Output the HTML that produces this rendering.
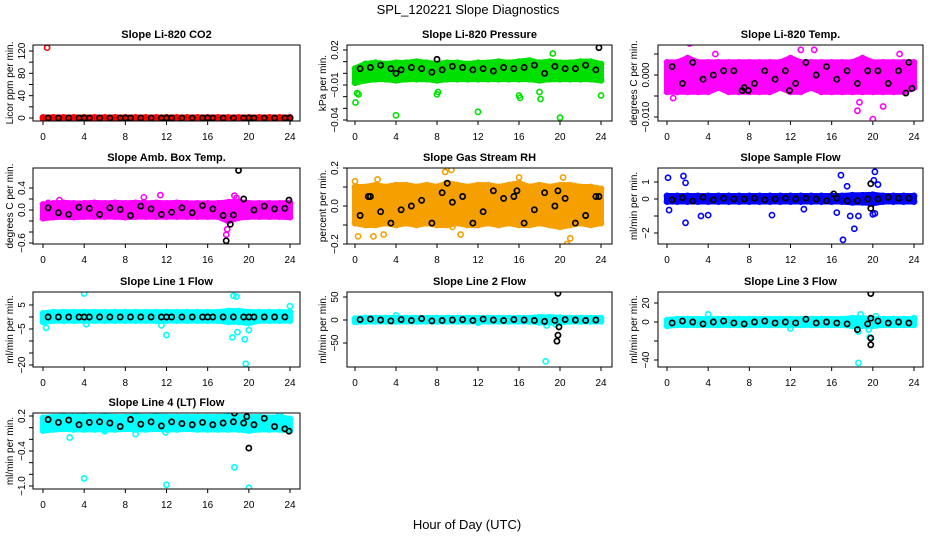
<!DOCTYPE html>
<html><head><meta charset="utf-8"><style>
body{margin:0;background:#fff;}
svg{display:block;font-family:"Liberation Sans",sans-serif;}
</style></head><body>
<svg id="c" width="936" height="540" viewBox="0 0 936 540">
<text x="468" y="14" text-anchor="middle" font-size="13">SPL_120221  Slope Diagnostics</text>
<text x="467" y="529" text-anchor="middle" font-size="13">Hour of Day (UTC)</text>
</svg>
<script>
// ---- data ----
const hours = [0,1,2,3,4,5,6,7,8,9,10,11,12,13,14,15,16,17,18,19,20,21,22,23,24];
const xTicks = [0,4,8,12,16,20,24];
const meanHours = [0.5,1.5,2.5,3.5,4.5,5.5,6.5,7.5,8.5,9.5,10.5,11.5,12.5,13.5,14.5,15.5,16.5,17.5,18.5,19.5,20.5,21.5,22.5,23.5];

const co2Lo = [-1,-1,-1,-1,-1,-1,-1,-1,-1,-1,-1,-1,-1,-1,-1,-1,-1,-1,-1,-1,-1,-1,-1,-1,-1];
const co2Hi = [1,1,1,1,1,1,1,1,1,1,1,1,1,1,1,1,1,1,1,1,1,1,1,1,1];
const co2Mean = [0,0,0,0,0,0,0,0,0,0,0,0,0,0,0,0,0,0,0,0,0,0,0,0];
const co2OutX = [0.4]; const co2OutY = [126];
const co2BlkX = [4,8,12,16,20,24]; const co2BlkY = [0,0,0,0,0,0];

const prLo = [-0.008,-0.006,-0.005,-0.005,-0.006,-0.005,-0.005,-0.005,-0.006,-0.005,-0.005,-0.005,-0.005,-0.005,-0.005,-0.005,-0.005,-0.005,-0.006,-0.005,-0.005,-0.005,-0.005,-0.005,-0.006];
const prHi = [0.004,0.008,0.009,0.008,0.009,0.009,0.010,0.009,0.008,0.009,0.009,0.008,0.009,0.009,0.010,0.009,0.010,0.011,0.009,0.010,0.009,0.009,0.010,0.010,0.008];
const prMean = [0.004,0.005,0.007,0.004,0.003,0.005,0.004,0.001,0.003,0.006,0.005,0.003,0.004,0.002,0.005,0.004,0.005,0.007,0.000,0.006,0.004,0.004,0.007,0.003];
const prOutX = [0.05,0.2,0.35,4.0,8.0,8.1,12.0,16.0,16.1,18.0,18.1,20.0,24.0,19.3];
const prOutY = [-0.025,-0.017,-0.018,-0.036,-0.018,-0.016,-0.033,-0.019,-0.021,-0.016,-0.022,-0.038,-0.019,0.017];
const prBlkX = [23.8,8.0,4.0]; const prBlkY = [0.022,0.012,0.000];

const tLo = [-0.004,-0.004,-0.004,-0.004,-0.004,-0.003,-0.004,-0.004,-0.004,-0.004,-0.004,-0.003,-0.004,-0.004,-0.003,-0.004,-0.004,-0.004,-0.004,-0.004,-0.004,-0.004,-0.004,-0.004,-0.003];
const tHi = [0.003,0.003,0.004,0.003,0.003,0.003,0.003,0.003,0.003,0.003,0.003,0.003,0.004,0.003,0.003,0.003,0.003,0.003,0.003,0.004,0.003,0.003,0.003,0.003,0.003];
const tMean = [0.002,-0.002,0.003,-0.001,0.000,0.001,0.001,-0.003,-0.002,0.001,-0.001,0.001,-0.002,0.003,0.000,0.002,-0.001,0.001,-0.002,0.001,0.001,-0.002,0.001,0.003];
const tOutX = [0.6,2.2,4.7,20.0,21.0,18.5,14.3,22.6,13.0,18.7];
const tOutY = [-0.0055,0.0075,0.005,-0.0105,-0.0075,-0.0085,0.006,0.005,0.006,-0.0065];
const tBlkX = [7.3,7.9,11.9,23.2,23.8]; const tBlkY = [-0.0037,-0.0037,-0.0037,-0.0043,-0.0032];

const aLo = [-0.15,-0.13,-0.12,-0.13,-0.12,-0.12,-0.12,-0.12,-0.13,-0.12,-0.12,-0.12,-0.12,-0.12,-0.12,-0.12,-0.12,-0.12,-0.20,-0.14,-0.12,-0.12,-0.12,-0.12,-0.13];
const aHi = [0.10,0.12,0.13,0.12,0.12,0.13,0.12,0.13,0.12,0.13,0.12,0.13,0.12,0.13,0.12,0.12,0.12,0.12,0.14,0.15,0.12,0.12,0.12,0.12,0.13];
const aMean = [0.04,-0.05,-0.08,0.05,0.03,-0.08,0.04,0.01,-0.10,0.07,0.02,-0.08,-0.04,0.04,-0.05,0.08,0.02,-0.10,-0.09,0.20,0.00,0.07,0.02,0.03];
const aOutX = [17.8,17.9,18.6,18.8,1.6,11.4,9.8,0.5];
const aOutY = [-0.45,-0.35,0.26,0.22,0.18,0.27,0.23,0.13];
const aBlkX = [19.0,17.8,18.2,23.9]; const aBlkY = [0.72,-0.56,-0.26,0.18];

const rhLo = [-0.09,-0.10,-0.10,-0.09,-0.10,-0.09,-0.10,-0.09,-0.10,-0.10,-0.09,-0.10,-0.10,-0.09,-0.10,-0.09,-0.10,-0.10,-0.09,-0.10,-0.11,-0.10,-0.09,-0.10,-0.09];
const rhHi = [0.10,0.10,0.11,0.10,0.11,0.11,0.10,0.11,0.10,0.12,0.11,0.10,0.11,0.11,0.10,0.11,0.12,0.10,0.11,0.10,0.11,0.11,0.10,0.10,0.09];
const rhMean = [-0.05,0.05,-0.03,-0.09,-0.02,0.00,0.03,-0.09,0.07,0.02,0.05,-0.09,-0.03,0.08,0.04,0.05,-0.09,-0.02,0.07,0.00,0.04,-0.09,-0.05,0.05];
const rhOutX = [0.0,0.3,1.8,2.2,2.8,8.8,9.4,9.5,10.3,16.0,20.3,21.0,20.7,11.7];
const rhOutY = [0.13,-0.16,-0.16,0.14,-0.15,0.18,0.19,-0.11,-0.15,0.15,0.15,-0.17,-0.20,-0.10];
const rhBlkX = [1.3,9.0,15.8,19.8,23.8]; const rhBlkY = [0.05,0.12,0.08,0.08,0.05];

const sLo = [-0.15,-0.15,-0.15,-0.15,-0.15,-0.15,-0.15,-0.15,-0.15,-0.15,-0.15,-0.15,-0.15,-0.15,-0.15,-0.15,-0.15,-0.15,-0.20,-0.20,-0.25,-0.15,-0.15,-0.15,-0.15];
const sHi = [0.18,0.18,0.18,0.18,0.18,0.18,0.18,0.18,0.18,0.18,0.18,0.18,0.18,0.18,0.18,0.18,0.18,0.18,0.22,0.22,0.25,0.18,0.18,0.18,0.18];
const sMean = [-0.05,0.08,-0.12,0.10,-0.05,0.05,0.00,0.00,0.05,-0.05,0.00,0.05,0.00,0.05,0.00,-0.10,0.05,-0.10,-0.10,0.00,0.00,0.10,0.05,0.05];
const sOutX = [0.1,0.2,1.6,1.8,1.8,3.3,4.0,5.0,10.2,13.3,16.9,17.1,17.5,17.8,18.2,18.6,20.1,20.2,20.5,20.0,20.2,16.5];
const sOutY = [1.25,-0.65,1.35,0.95,-1.4,-1.0,-0.95,0.0,-0.95,-0.6,1.4,-2.4,0.75,-1.0,-1.75,-1.0,1.1,1.6,0.85,-0.9,-0.85,-0.8];
const sBlkX = [19.8,19.8,16.2]; const sBlkY = [0.9,-0.55,0.3];

const l1Lo = [-2,-1.5,-1.5,-1.5,-1.5,-1.5,-1.5,-1.5,-1.5,-1.5,-1.5,-1.5,-1.5,-1.5,-1.5,-1.5,-1.5,-1.5,-2,-2,-2.5,-1.5,-1.5,-1.5,-1.5];
const l1Hi = [1.5,2,2,2,2,2,2,2,2,2,2,2,2,2,2,2,2,2,2.5,2.5,2,2,2,2,2];
const l1Mean = [0,0,0,0,0,0,0,0,0,0,0,0,0,0,0,0,0,0,0,0,0,0,0,0];
const l1OutX = [4.0,18.5,18.8,12.0,18.4,19.6,19.7,18.9,20.0,24.0,0.3,11.5,4.2];
const l1OutY = [9.8,8.8,8.5,-7.5,-8.5,-9.3,-19.5,-6.3,-5.5,4.5,-4.5,-3.5,-3.0];
const l1BlkX = [4.0,12.0,16.0,20.0]; const l1BlkY = [0,0,0,0];

const l2Lo = [-4,-3,-3,-3,-3,-3,-3,-3,-3,-3,-3,-3,-3,-3,-3,-3,-3,-3,-5,-5,-5,-3,-3,-3,-3];
const l2Hi = [3,4,4,4,4,4,4,4,4,4,4,4,4,4,4,4,4,4,6,6,5,4,4,4,4];
const l2Mean = [1,2,0,-2,1,-1,3,-2,-1,0,1,-1,2,0,-1,1,0,-1,-3,-1,1,0,-1,0];
const l2OutX = [4.0,18.6,18.7,19.6,12.0];
const l2OutY = [10,-90,-12,-10,-6];
const l2BlkX = [19.8,19.7,19.8,19.9]; const l2BlkY = [58,-46,-33,-15];

const l3Lo = [-4,-3,-3,-3,-3,-3,-3,-3,-3,-3,-3,-3,-3,-3,-3,-3,-3,-3,-4,-4,-4,-3,-3,-3,-3];
const l3Hi = [2,3,3,3,3,3,3,3,3,3,3,3,3,3,3,3,3,3,4,4,3,3,3,3,3];
const l3Mean = [-1,1,0,-2,0,1,-1,-2,0,1,-1,0,-1,3,-1,0,-1,-2,-8,-2,1,-1,0,-1];
const l3OutX = [18.6,18.6,18.8,19.6,19.7,4.0,12.0,20.3,24.0];
const l3OutY = [-43,-10,8,-8,-16,8,-7,6,4];
const l3BlkX = [19.8,19.8,19.8,19.8]; const l3BlkY = [30,-17,-24,4];

const l4Lo = [-0.05,-0.03,-0.02,-0.03,-0.03,-0.03,-0.03,-0.03,-0.02,-0.03,-0.03,-0.02,-0.03,-0.03,-0.02,-0.03,-0.03,-0.03,-0.03,-0.03,-0.05,-0.03,-0.03,-0.03,-0.05];
const l4Hi = [0.17,0.18,0.19,0.18,0.19,0.18,0.19,0.18,0.18,0.19,0.18,0.19,0.18,0.18,0.18,0.18,0.18,0.18,0.19,0.18,0.18,0.18,0.17,0.18,0.15];
const l4Mean = [0.14,0.09,0.13,0.05,0.09,0.10,0.08,0.02,0.14,0.06,0.10,0.03,0.10,0.07,0.05,0.09,0.05,0.08,0.10,0.08,0.05,0.16,0.02,-0.02];
const l4OutX = [4.0,12.0,18.6,20.0,2.6,23.0,3.1,6.0,9.0,11.9];
const l4OutY = [-0.87,-0.98,-0.68,-1.03,-0.17,0.23,0.25,-0.06,-0.11,-0.08];
const l4BlkX = [18.6,20.0,19.8,23.9]; const l4BlkY = [0.25,-0.35,0.19,-0.06];

// ---- layout (geometry, not data) ----
const cols = [{l:33,r:300,x0:43,x24:290,ylab:13,tick:25},{l:347,r:612,x0:355,x24:601,ylab:326,tick:338},{l:658,r:923,x0:667,x24:914,ylab:637,tick:649}];
const rows = [{t:45,b:121},{t:168,b:244},{t:292,b:367},{t:413,b:489}];

const panels = [
 {name:'co2',title:'Slope Li-820 CO2',ylab:'Licor ppm per min.',c:0,r:0,col:'#ff0000',v0:0,p0:118,v1:120,p1:51,ticks:[0,20,40,60,80,100,120],labels:[0,40,80,120],lo:co2Lo,hi:co2Hi,mean:co2Mean,ox:co2OutX,oy:co2OutY,bx:co2BlkX,by:co2BlkY},
 {name:'pressure',title:'Slope Li-820 Pressure',ylab:'kPa per min.',c:1,r:0,col:'#00e000',v0:0.02,p0:50,v1:-0.04,p1:120,ticks:[0.02,0.01,0,-0.01,-0.02,-0.03,-0.04],labels:[0.02,-0.01,-0.04],lo:prLo,hi:prHi,mean:prMean,ox:prOutX,oy:prOutY,bx:prBlkX,by:prBlkY},
 {name:'temp',title:'Slope Li-820 Temp.',ylab:'degrees C per min.',c:2,r:0,col:'#ff00ff',v0:0,p0:75,v1:-0.01,p1:117,ticks:[0.005,0,-0.005,-0.01],labels:[0,-0.01],fmt:3,lo:tLo,hi:tHi,mean:tMean,ox:tOutX,oy:tOutY,bx:tBlkX,by:tBlkY},
 {name:'amb-box-temp',title:'Slope Amb. Box Temp.',ylab:'degrees C per min.',c:0,r:1,col:'#ff00ff',v0:0,p0:210,v1:0.4,p1:188,ticks:[0.4,0.2,0,-0.2,-0.4,-0.6],labels:[0.4,0,-0.6],fmt:1,lo:aLo,hi:aHi,mean:aMean,ox:aOutX,oy:aOutY,bx:aBlkX,by:aBlkY},
 {name:'gas-rh',title:'Slope Gas Stream RH',ylab:'percent per min.',c:1,r:1,col:'#f5a000',v0:0,p0:206,v1:0.2,p1:168,ticks:[0.2,0.1,0,-0.1,-0.2],labels:[0.2,0,-0.2],fmt:1,lo:rhLo,hi:rhHi,mean:rhMean,ox:rhOutX,oy:rhOutY,bx:rhBlkX,by:rhBlkY},
 {name:'sample-flow',title:'Slope Sample Flow',ylab:'ml/min per min.',c:2,r:1,col:'#0000ff',v0:0,p0:199,v1:1,p1:182,ticks:[1,0,-1,-2],labels:[1,0,-2],lo:sLo,hi:sHi,mean:sMean,ox:sOutX,oy:sOutY,bx:sBlkX,by:sBlkY},
 {name:'line1-flow',title:'Slope Line 1 Flow',ylab:'ml/min per min.',c:0,r:2,col:'#00ffff',v0:0,p0:317,v1:5,p1:305,ticks:[5,0,-5,-10,-15,-20],labels:[5,-5,-20],lo:l1Lo,hi:l1Hi,mean:l1Mean,ox:l1OutX,oy:l1OutY,bx:l1BlkX,by:l1BlkY},
 {name:'line2-flow',title:'Slope Line 2 Flow',ylab:'ml/min per min.',c:1,r:2,col:'#00ffff',v0:0,p0:320,v1:50,p1:297,ticks:[50,0,-50],labels:[50,0,-50],lo:l2Lo,hi:l2Hi,mean:l2Mean,ox:l2OutX,oy:l2OutY,bx:l2BlkX,by:l2BlkY},
 {name:'line3-flow',title:'Slope Line 3 Flow',ylab:'ml/min per min.',c:2,r:2,col:'#00ffff',v0:0,p0:322,v1:20,p1:303,ticks:[20,0,-20,-40],labels:[20,0,-40],lo:l3Lo,hi:l3Hi,mean:l3Mean,ox:l3OutX,oy:l3OutY,bx:l3BlkX,by:l3BlkY},
 {name:'line4-flow',title:'Slope Line 4 (LT) Flow',ylab:'ml/min per min.',c:0,r:3,col:'#00ffff',v0:0.2,p0:416,v1:-1.0,p1:486,ticks:[0.2,0,-0.2,-0.4,-0.6,-0.8,-1.0],labels:[0.2,-0.4,-1.0],fmt:1,lo:l4Lo,hi:l4Hi,mean:l4Mean,ox:l4OutX,oy:l4OutY,bx:l4BlkX,by:l4BlkY}
];

const NS='http://www.w3.org/2000/svg';
const svg=document.getElementById('c');
function mk(tag,attrs,parent){const e=document.createElementNS(NS,tag);for(const k in attrs)e.setAttribute(k,attrs[k]);(parent||svg).appendChild(e);return e;}
function fmtNum(v,d){if(d===undefined)return String(v).replace('-','\u2212');return v.toFixed(d).replace('-','\u2212');}

panels.forEach(p=>{
  const C=cols[p.c],R=rows[p.r];
  const xs=h=>C.x0+(C.x24-C.x0)*h/24;
  const ys=v=>p.p0+(p.p1-p.p0)*(v-p.v0)/(p.v1-p.v0);
  const g=mk('g',{});
  
  
  const clip=mk('clipPath',{id:'clip-'+p.name},g);
  mk('rect',{x:C.l,y:R.t,width:C.r-C.l,height:R.b-R.t},clip);
  const t=mk('text',{x:(C.l+C.r)/2,y:R.t-7,'text-anchor':'middle','font-size':11,'font-weight':'bold'},g);
  t.textContent=p.title;
  
  
  const yl=mk('text',{x:0,y:0,transform:`translate(${C.ylab},${(R.t+R.b)/2}) rotate(-90)`,'text-anchor':'middle','font-size':10},g);
  yl.textContent=p.ylab;
  
  
  const plot=mk('g',{'clip-path':`url(#clip-${p.name})`},g);
  
  
  let pts=[];
  hours.forEach((h,i)=>pts.push(xs(h)+','+ys(p.hi[i])));
  for(let i=hours.length-1;i>=0;i--)pts.push(xs(hours[i])+','+ys(p.lo[i]));
  const band=mk('polygon',{points:pts.join(' '),fill:p.col,stroke:p.col,'stroke-width':6,'stroke-linejoin':'round'},plot);
  
  
  hours.forEach((h,i)=>{
    [p.lo[i],p.hi[i]].forEach(v=>{
      const c=mk('circle',{cx:xs(h),cy:ys(v),r:2.6,fill:'none',stroke:p.col,'stroke-width':1.6},plot);
      
      
    });
  });
  p.ox.forEach((x,i)=>{
    const c=mk('circle',{cx:xs(x),cy:ys(p.oy[i]),r:2.6,fill:'none',stroke:p.col,'stroke-width':1.6},plot);
    
    
  });
  meanHours.forEach((h,i)=>{
    const c=mk('circle',{cx:xs(h),cy:ys(p.mean[i]),r:2.6,fill:'none',stroke:'#000','stroke-width':1.7},plot);
    
    
  });
  p.bx.forEach((x,i)=>{
    const c=mk('circle',{cx:xs(x),cy:ys(p.by[i]),r:2.6,fill:'none',stroke:'#000','stroke-width':1.7},plot);
    
    
  });
  const box=mk('rect',{x:C.l,y:R.t,width:C.r-C.l,height:R.b-R.t,fill:'none',stroke:'#000','stroke-width':1},g);
  
  
  const xa=mk('g',{},g);
  
  
  xTicks.forEach(v=>{
    mk('line',{x1:xs(v),x2:xs(v),y1:R.b,y2:R.b+4,stroke:'#000'},xa);
    const tl=mk('text',{x:xs(v),y:R.b+19,'text-anchor':'middle','font-size':10},xa);
    tl.textContent=v;
    
    
  });
  const ya=mk('g',{},g);
  
  
  p.ticks.forEach(v=>mk('line',{x1:C.l-4,x2:C.l,y1:ys(v),y2:ys(v),stroke:'#000'},ya));
  p.labels.forEach(v=>{
    const tl=mk('text',{x:0,y:0,transform:`translate(${C.tick},${ys(v)}) rotate(-90)`,'text-anchor':'middle','font-size':10},ya);
    tl.textContent=fmtNum(v,p.fmt!==undefined?p.fmt:(Math.abs(v)<1&&v!==0?2:undefined));
    
    
  });
});
</script>
</body></html>
